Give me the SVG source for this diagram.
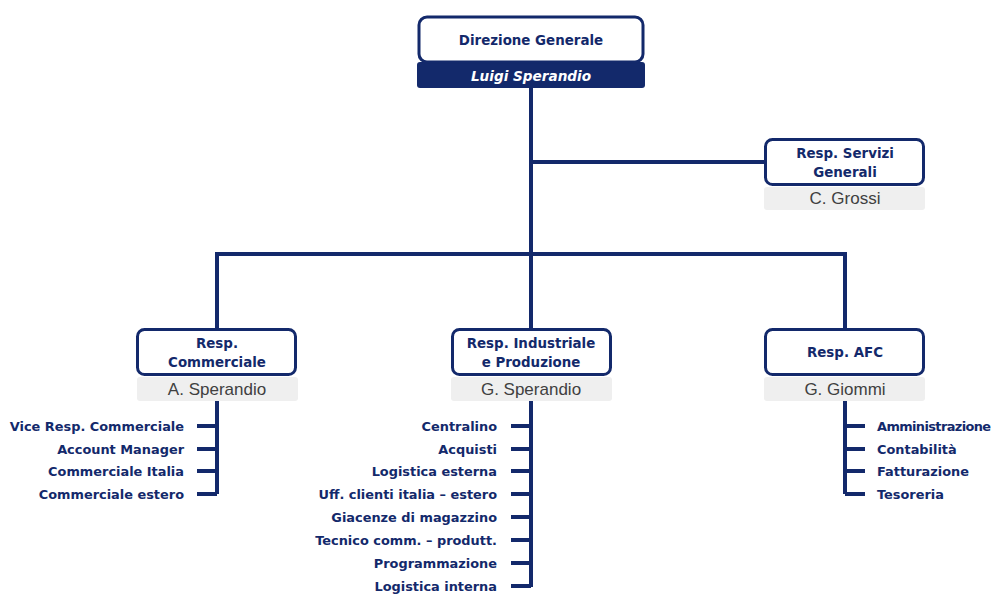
<svg xmlns="http://www.w3.org/2000/svg" width="995" height="594" viewBox="0 0 995 594">
<style>
.box{fill:#ffffff;stroke:#13296b;stroke-width:3}
.bar{fill:#13296b}
.grey{fill:#efefef}
.t{font-family:"DejaVu Sans",sans-serif;font-weight:bold;font-size:13.4px;fill:#13296b;text-anchor:middle}
.n{font-family:"Liberation Sans",Arial,sans-serif;font-size:17px;fill:#404040;text-anchor:middle}
.w{font-family:"DejaVu Sans",sans-serif;font-weight:bold;font-style:italic;font-size:13.6px;fill:#ffffff;text-anchor:middle}
.i{font-family:"DejaVu Sans",sans-serif;font-weight:bold;font-size:12.9px;fill:#13296b}
.r{text-anchor:end}
.c{fill:none;stroke:#13296b;stroke-width:4}
</style>
<rect width="995" height="594" fill="#ffffff"/>
<g id="connectors">
<path class="c" d="M531 87V254M531 162H765M217 329V254H845V329M531 254V329"/>
<path class="c" d="M217 401V494M197 426H217M197 449H217M197 471H217M197 494H217"/>
<path class="c" d="M531 401V587M511 426H531M511 449H531M511 471H531M511 494H531M511 517H531M511 540H531M511 563H531M511 586H531"/>
<path class="c" d="M845 401V494M845 426H865M845 449H865M845 471H865M845 494H865"/>
</g>
<g id="direzione">
<rect class="bar" x="417" y="62" width="228" height="26" rx="3"/>
<rect class="box" x="419" y="17" width="224" height="45" rx="8"/>
<text class="t" x="531" y="45" font-size="15.8">Direzione Generale</text>
<text class="w" x="531" y="81">Luigi Sperandio</text>
</g>
<g id="servizi">
<rect class="box" x="765.5" y="139.5" width="158" height="45" rx="7"/>
<text class="t" x="845" y="158">Resp. Servizi</text>
<text class="t" x="845" y="177">Generali</text>
<rect class="grey" x="764" y="187" width="161" height="23" rx="3"/>
<text class="n" x="845" y="204">C. Grossi</text>
</g>
<g id="commerciale">
<rect class="box" x="137.5" y="329.5" width="158" height="45" rx="7"/>
<text class="t" x="217" y="348">Resp.</text>
<text class="t" x="217" y="367">Commerciale</text>
<rect class="grey" x="137" y="377" width="161" height="24" rx="3"/>
<text class="n" x="217" y="395">A. Sperandio</text>
</g>
<g id="industriale">
<rect class="box" x="452.5" y="329.5" width="158" height="45" rx="7"/>
<text class="t" x="531" y="348">Resp. Industriale</text>
<text class="t" x="531" y="367">e Produzione</text>
<rect class="grey" x="451" y="377" width="161" height="24" rx="3"/>
<text class="n" x="531" y="395">G. Sperandio</text>
</g>
<g id="afc">
<rect class="box" x="765.5" y="329.5" width="158" height="45" rx="7"/>
<text class="t" x="845" y="357">Resp. AFC</text>
<rect class="grey" x="764" y="377" width="161" height="24" rx="3"/>
<text class="n" x="845" y="395">G. Giommi</text>
</g>
<g id="comm-items">
<text class="i r" x="184" y="431">Vice Resp. Commerciale</text>
<text class="i r" x="184" y="454">Account Manager</text>
<text class="i r" x="184" y="476">Commerciale Italia</text>
<text class="i r" x="184" y="499">Commerciale estero</text>
</g>
<g id="ind-items">
<text class="i r" x="497" y="431">Centralino</text>
<text class="i r" x="497" y="454">Acquisti</text>
<text class="i r" x="497" y="476">Logistica esterna</text>
<text class="i r" x="497" y="499">Uff. clienti italia – estero</text>
<text class="i r" x="497" y="522">Giacenze di magazzino</text>
<text class="i r" x="497" y="545">Tecnico comm. – produtt.</text>
<text class="i r" x="497" y="568">Programmazione</text>
<text class="i r" x="497" y="591">Logistica interna</text>
</g>
<g id="afc-items">
<text class="i" x="877" y="431" font-size="11.8" letter-spacing="-0.6">Amministrazione</text>
<text class="i" x="877" y="454">Contabilità</text>
<text class="i" x="877" y="476">Fatturazione</text>
<text class="i" x="877" y="499">Tesoreria</text>
</g>
</svg>
